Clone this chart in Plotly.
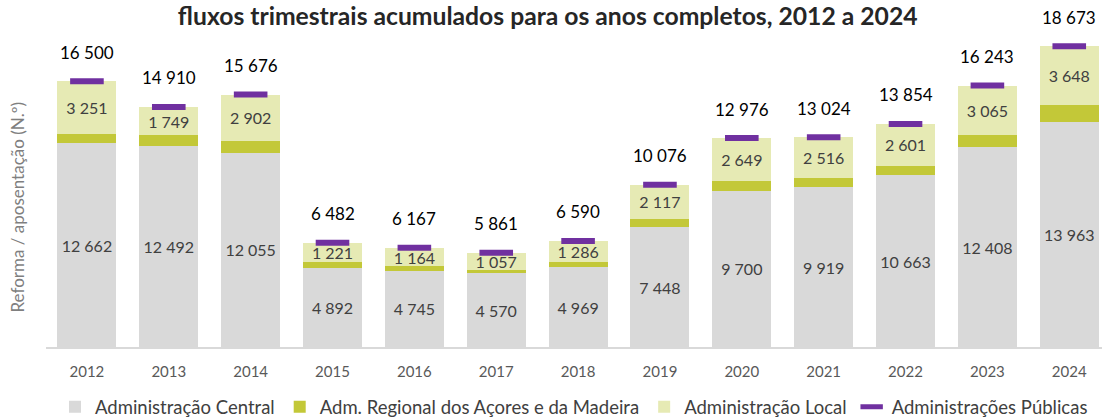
import plotly.graph_objects as go

years = ["2012", "2013", "2014", "2015", "2016", "2017", "2018",
         "2019", "2020", "2021", "2022", "2023", "2024"]
central = [12662, 12492, 12055, 4892, 4745, 4570, 4969, 7448, 9700, 9919, 10663, 12408, 13963]
regional = [587, 669, 719, 369, 258, 234, 335, 511, 627, 589, 590, 770, 1062]
local = [3251, 1749, 2902, 1221, 1164, 1057, 1286, 2117, 2649, 2516, 2601, 3065, 3648]
total = [16500, 14910, 15676, 6482, 6167, 5861, 6590, 10076, 12976, 13024, 13854, 16243, 18673]

def fmt(v):
    return f"{v:,}".replace(",", " ")

FONT = "Lato"
fig = go.Figure()
fig.add_trace(go.Bar(x=years, y=central, name="Administração Central",
                     marker=dict(color="#D9D9D9", line=dict(width=0)),
                     text=[fmt(v) for v in central], textposition="inside",
                     insidetextanchor="middle", textangle=0, constraintext="none",
                     textfont=dict(size=16, color="#404040", family=FONT)))
fig.add_trace(go.Bar(x=years, y=regional, name="Adm. Regional dos Açores e da Madeira",
                     marker=dict(color="#C3C838", line=dict(width=0))))
fig.add_trace(go.Bar(x=years, y=local, name="Administração Local",
                     marker=dict(color="#E6EAB4", line=dict(width=0)),
                     text=[fmt(v) for v in local], textposition="inside",
                     insidetextanchor="middle", textangle=0, constraintext="none",
                     textfont=dict(size=16, color="#404040", family=FONT)))
fig.add_trace(go.Scatter(x=years, y=total, name="Administrações Públicas", mode="markers",
                         marker=dict(symbol="line-ew", size=24,
                                     line=dict(width=6, color="#7030A0"), color="#7030A0")))

for i, t in enumerate(total):
    fig.add_annotation(x=i, y=t, xref="x", yref="y", text=fmt(t), showarrow=False, yshift=29,
                       font=dict(size=17, color="#000000", family=FONT))

fig.add_annotation(xref="paper", yref="paper", x=-0.0265, y=0.44, text="Reforma / aposentação (N.º)",
                   textangle=-90, showarrow=False, xanchor="center", yanchor="middle",
                   font=dict(size=17, color="#7F7F7F", family=FONT))

fig.update_layout(
    barmode="stack", bargap=0.28,
    width=1102, height=418,
    margin=dict(l=46, r=0, t=30, b=71, autoexpand=False),
    plot_bgcolor="white", paper_bgcolor="white",
    font=dict(family=FONT, color="#404040"),
    title=dict(text="<b>fluxos trimestrais acumulados para os anos completos, 2012 a 2024</b>",
               x=0.497, xanchor="center", y=0.982, yanchor="top",
               font=dict(size=24.7, color="#262626", family=FONT)),
    legend=dict(orientation="h", x=0.5, xanchor="center", y=-0.13, yanchor="top",
                font=dict(size=18.5, color="#404040", family=FONT),
                traceorder="normal", itemwidth=30),
    showlegend=True,
)
fig.update_xaxes(type="category", range=[-0.5, 12.4], showline=True, linecolor="#D9D9D9", linewidth=1.5,
                 ticks="", ticklabelstandoff=10, tickfont=dict(size=15, color="#595959", family=FONT))
fig.update_yaxes(range=[0, 19690], showgrid=False, showticklabels=False, zeroline=False)

fig.write_html("out.html", config={"displayModeBar": False},
               post_script="document.body.style.margin='0';")
